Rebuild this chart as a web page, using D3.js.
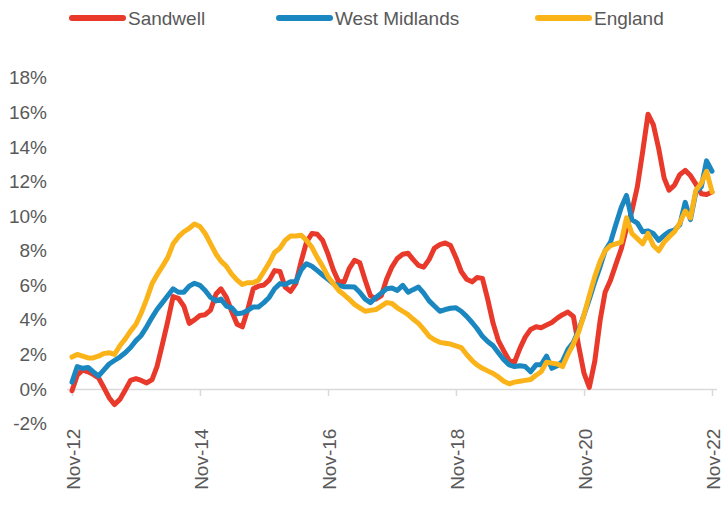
<!DOCTYPE html>
<html>
<head>
<meta charset="utf-8">
<script src="https://cdn.jsdelivr.net/npm/d3@7"></script>
<style>
  body { margin: 0; background: #fff; }
  svg text { font-family: "Liberation Sans", Arial, sans-serif; fill: #595959; }
</style>
</head>
<body>
<div id="chart"></div>
<script>
// monthly annual change, Nov-12 .. Nov-22
var startMonth = new Date(2012, 10, 1)

var sandwell = [
  -0.1, 0.8, 1.1, 1.0, 0.85, 0.65, 0.1, -0.5, -0.9, -0.6, -0.05, 0.5,
  0.6, 0.5, 0.35, 0.55, 1.3, 2.6, 3.9, 5.35, 5.25, 4.8, 3.8, 4.0,
  4.25, 4.3, 4.57, 5.5, 5.8, 5.3, 4.5, 3.75, 3.6, 4.6, 5.8, 5.95,
  6.02, 6.3, 6.85, 6.8, 5.9, 5.65, 6.1, 7.4, 8.5, 9.0, 8.95, 8.6,
  7.8, 6.9, 6.2, 6.2, 6.95, 7.45, 7.3, 6.3, 5.4, 5.2, 5.4, 6.35,
  7.07, 7.55, 7.8, 7.85, 7.5, 7.15, 7.05, 7.5, 8.15, 8.35, 8.45, 8.3,
  7.6, 6.8, 6.35, 6.2, 6.45, 6.4, 5.2, 3.8, 2.8, 2.2, 1.65, 1.55,
  2.35, 3.0, 3.45, 3.6, 3.55, 3.7, 3.85, 4.1, 4.3, 4.45, 4.2, 2.5,
  0.9, 0.1, 1.6, 4.0, 5.6, 6.3, 7.2, 8.1, 9.3, 10.3, 11.7, 13.7,
  15.9, 15.3, 13.9, 12.2, 11.5, 11.8, 12.4, 12.65, 12.35, 11.85, 11.3, 11.25,
  11.4
]

var westMidlands = [
  0.4, 1.3, 1.2, 1.25, 1.0, 0.75, 1.1, 1.45, 1.65, 1.85, 2.1, 2.4,
  2.8, 3.1, 3.6, 4.15, 4.6, 5.0, 5.4, 5.8, 5.6, 5.6, 5.95, 6.12,
  6.0, 5.7, 5.3, 5.1, 5.2, 4.8, 4.7, 4.35, 4.4, 4.55, 4.75, 4.75,
  5.0, 5.3, 5.8, 6.1, 6.05, 6.2, 6.2, 6.9, 7.25, 7.1, 6.85, 6.6,
  6.35, 6.1, 6.0, 5.92, 5.92, 5.9, 5.6, 5.2, 5.0, 5.3, 5.55, 5.8,
  5.85, 5.7, 6.0, 5.6, 5.75, 5.9, 5.55, 5.1, 4.8, 4.5, 4.6, 4.67,
  4.7, 4.5, 4.2, 3.85, 3.5, 3.05, 2.75, 2.5, 2.1, 1.7, 1.4, 1.3,
  1.35, 1.3, 1.0, 1.4, 1.4, 1.9, 1.2, 1.35, 1.6, 2.3, 2.7, 3.4,
  4.3, 5.2, 6.2, 7.1, 8.0, 8.5, 9.5, 10.5, 11.2, 9.8, 9.6, 9.1,
  9.15, 9.0, 8.6, 8.9, 9.1, 9.2, 9.5, 10.8, 9.8, 11.4, 11.7, 13.2,
  12.6
]

var england = [
  1.85, 2.0, 1.9, 1.8, 1.8, 1.9, 2.05, 2.1, 2.0, 2.5, 2.9, 3.35,
  3.75, 4.4, 5.2, 6.1, 6.6, 7.1, 7.6, 8.4, 8.8, 9.1, 9.3, 9.55,
  9.4, 9.0, 8.4, 7.8, 7.4, 7.1, 6.65, 6.3, 6.05, 6.15, 6.15, 6.3,
  6.8, 7.3, 7.9, 8.15, 8.6, 8.85, 8.85, 8.9, 8.6, 8.2, 7.6, 7.1,
  6.5, 6.1, 5.7, 5.45, 5.2, 4.9, 4.7, 4.5, 4.55, 4.6, 4.8, 5.0,
  4.95, 4.7, 4.5, 4.3, 4.05, 3.8, 3.45, 3.05, 2.85, 2.7, 2.65, 2.6,
  2.5, 2.4, 2.0, 1.65, 1.4, 1.2, 1.05, 0.9, 0.7, 0.45, 0.3, 0.4,
  0.45, 0.5, 0.55, 0.8, 1.0, 1.55, 1.5, 1.45, 1.3, 2.0, 2.6, 3.3,
  4.3, 5.4, 6.5, 7.4, 8.0, 8.3, 8.4, 8.5, 9.9, 9.0, 8.7, 8.4,
  9.0, 8.3, 8.0, 8.5, 8.8, 9.1, 9.6, 10.3, 9.9, 11.5, 11.9, 12.6,
  11.4
]

var seriesNames = ["Sandwell", "West Midlands", "England"]
var seriesColors = ["#E8392A", "#1B87C0", "#FBB31A"]
var yTicks = [-2, 0, 2, 4, 6, 8, 10, 12, 14, 16, 18]

var width = 721, height = 511
var margin = {top: 78, right: 9, bottom: 88, left: 72}
var fontSize = "19px"

var svg = d3.select("#chart").append("svg")
    .attr("width", width)
    .attr("height", height)

var months = sandwell.map(function(d, i) {
    return d3.timeMonth.offset(startMonth, i)
})

var x = d3.scaleTime()
    .domain([months[0], months[months.length - 1]])
    .range([margin.left, width - margin.right])

var y = d3.scaleLinear()
    .domain([-2, 18])
    .range([423.6, 77.9])

// y labels, no grid
svg.append("g")
    .attr("transform", "translate(47,0)")
    .call(d3.axisLeft(y).tickValues(yTicks).tickSize(0).tickPadding(0)
        .tickFormat(function(d) { return d + "%" }))
    .call(function(g) { g.select(".domain").remove() })
    .selectAll("text")
    .style("font-size", fontSize)
    .attr("fill", "#595959")

// x axis along 0%
var xTickDates = d3.range(0, months.length, 24).map(function(i) { return months[i] })
var xAxis = svg.append("g")
    .attr("transform", "translate(0," + y(0) + ")")
    .call(d3.axisBottom(x).tickValues(xTickDates).tickSize(7).tickSizeOuter(0)
        .tickFormat(d3.timeFormat("%b-%y")))
xAxis.select(".domain")
    .attr("stroke", "#d9d9d9")
    .attr("stroke-width", 1.5)
    .attr("d", "M" + (margin.left - 5) + ",0.5H" + (width - 4))
xAxis.selectAll(".tick line")
    .attr("stroke", "#d9d9d9")
    .attr("stroke-width", 1.5)
xAxis.selectAll(".tick text")
    .style("font-size", fontSize)
    .attr("fill", "#595959")
    .attr("text-anchor", "end")
    .attr("dy", "0.35em")
    .attr("transform", "translate(1," + (423.6 + 5 - y(0)) + ") rotate(-90)")
    .attr("x", 0)
    .attr("y", 0)

// lines
var data = [sandwell, westMidlands, england]
var line = d3.line()
    .x(function(d, i) { return x(months[i]) })
    .y(function(d) { return y(d) })

svg.append("g").selectAll("path")
    .data(data)
    .enter().append("path")
    .attr("d", line)
    .attr("fill", "none")
    .attr("stroke", function(d, i) { return seriesColors[i] })
    .attr("stroke-width", 5)
    .attr("stroke-linejoin", "round")
    .attr("stroke-linecap", "round")

// legend
var legendX = [70, 277, 536]
var legend = svg.append("g").selectAll("g")
    .data(seriesNames)
    .enter().append("g")
    .attr("transform", function(d, i) { return "translate(" + legendX[i] + ",18)" })
legend.append("line")
    .attr("x1", 2).attr("x2", 53)
    .attr("y1", 0).attr("y2", 0)
    .attr("stroke", function(d, i) { return seriesColors[i] })
    .attr("stroke-width", 6)
    .attr("stroke-linecap", "round")
legend.append("text")
    .attr("x", 58)
    .attr("y", 0)
    .attr("dy", "0.35em")
    .style("font-size", fontSize)
    .text(function(d) { return d })
</script>
</body>
</html>
